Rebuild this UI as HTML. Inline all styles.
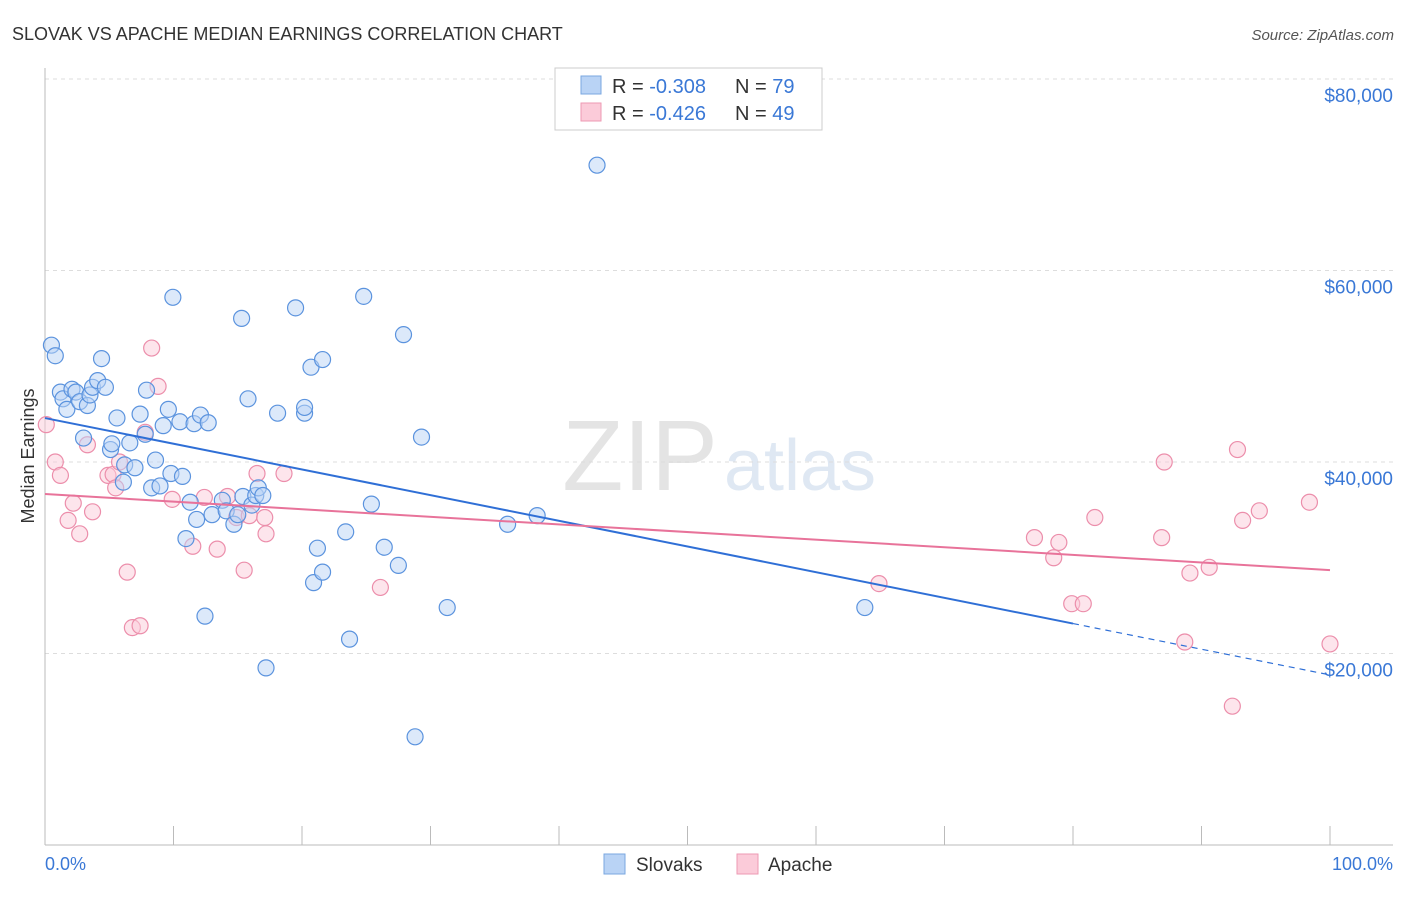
<!DOCTYPE html>
<html><head><meta charset="utf-8"><style>
body{margin:0;background:#fff;font-family:"Liberation Sans",sans-serif}
svg text{font-family:"Liberation Sans",sans-serif}
</style></head><body>
<svg id="c" width="1406" height="892">
<text x="12" y="40" font-size="18" fill="#333">SLOVAK VS APACHE MEDIAN EARNINGS CORRELATION CHART</text>
<text x="1394" y="40" font-size="15" fill="#555" text-anchor="end" font-style="italic">Source: ZipAtlas.com</text>
<text x="640" y="490" font-size="100" fill="#e4e4e4" font-family="Liberation Serif" text-anchor="middle">ZIP</text>
<text x="800" y="490" font-size="72" fill="#dfe8f3" text-anchor="middle">atlas</text>
<text x="34" y="456" font-size="18" fill="#333" text-anchor="middle" transform="rotate(-90 34 456)">Median Earnings</text>
<g id="grid"></g><g id="pts"></g><g id="lines"></g>
<g>
<rect x="555" y="68" width="267" height="62" fill="#fff" stroke="#ccc"/>
<rect x="581" y="76" width="20" height="18" fill="#b9d3f5" stroke="#7aa7e0"/>
<rect x="581" y="103" width="20" height="18" fill="#fbcbd9" stroke="#ee9ab3"/>
<text x="612" y="93" font-size="20" fill="#333">R = <tspan fill="#3a78d6">-0.308</tspan></text>
<text x="735" y="93" font-size="20" fill="#333">N = <tspan fill="#3a78d6">79</tspan></text>
<text x="612" y="120" font-size="20" fill="#333">R = <tspan fill="#3a78d6">-0.426</tspan></text>
<text x="735" y="120" font-size="20" fill="#333">N = <tspan fill="#3a78d6">49</tspan></text>
</g>
<g>
<rect x="604" y="854" width="21" height="20" fill="#b9d3f5" stroke="#7aa7e0"/>
<text x="636" y="871" font-size="19" fill="#333">Slovaks</text>
<rect x="737" y="854" width="21" height="20" fill="#fbcbd9" stroke="#ee9ab3"/>
<text x="768" y="871" font-size="19" fill="#333">Apache</text>
</g>
<text x="45" y="870" font-size="18" fill="#3a78d6">0.0%</text>
<text x="1393" y="870" font-size="18" fill="#3a78d6" text-anchor="end">100.0%</text>
</svg>
<script>
const yTicks=[80000,60000,40000,20000];
const yTickLabels=["$80,000","$60,000","$40,000","$20,000"];
const slovakX=[0.5,0.8,1.2,1.4,1.7,2.1,2.4,2.7,3.3,3.5,3.7,4.1,4.4,4.7,3.0,5.1,5.2,5.6,6.1,6.2,6.6,7.0,7.4,7.9,7.8,8.3,8.6,8.95,9.2,9.6,9.8,9.95,10.5,10.7,10.97,11.3,11.6,11.8,12.1,12.45,12.7,13.0,13.8,14.1,14.7,15.0,15.3,15.4,15.8,16.1,16.4,16.6,16.95,17.2,18.1,19.5,20.2,20.2,20.7,20.9,21.2,21.6,21.6,23.4,23.7,24.8,25.4,26.4,27.5,27.9,28.8,29.3,31.3,36.0,38.3,42.96,63.8];
const slovakY=[52.2,51.1,47.3,46.6,45.5,47.6,47.3,46.3,45.9,47.0,47.8,48.5,50.8,47.8,42.5,41.3,41.9,44.6,37.9,39.7,42.0,39.4,45.0,47.5,42.9,37.3,40.2,37.5,43.8,45.5,38.8,57.2,44.2,38.5,32.0,35.8,44.0,34.0,44.9,23.9,44.1,34.5,36.0,34.9,33.5,34.5,55.0,36.4,46.6,35.5,36.5,37.3,36.5,18.5,45.1,56.1,45.1,45.7,49.9,27.4,31.0,50.7,28.5,32.7,21.5,57.3,35.6,31.1,29.2,53.3,11.3,42.6,24.8,33.5,34.4,71.0,24.8];
const apacheX=[0.1,0.8,1.2,1.8,2.2,2.7,3.3,3.7,4.9,5.3,5.5,5.8,6.4,6.8,7.4,7.8,8.3,8.8,9.9,11.5,12.4,13.4,14.2,14.9,15.5,15.9,16.5,17.1,17.2,18.6,26.1,64.9,77.0,78.5,78.9,79.9,80.8,81.7,87.1,86.9,89.1,90.6,88.7,92.4,93.2,92.8,94.5,98.4,100.0];
const apacheY=[43.9,40.0,38.6,33.9,35.7,32.5,41.8,34.8,38.6,38.7,37.3,40.0,28.5,22.7,22.9,43.1,51.9,47.9,36.1,31.2,36.3,30.9,36.4,34.2,28.7,34.4,38.8,34.2,32.5,38.8,26.9,27.3,32.1,30.0,31.6,25.2,25.2,34.2,40.0,32.1,28.4,29.0,21.2,14.5,33.9,41.3,34.9,35.8,21.0];
const X0=45,X1=1330,YB=845,PXK=9.575;
const sx=v=>X0+(X1-X0)*v/100, sy=v=>YB-v*PXK/1000;
const NS="http://www.w3.org/2000/svg";
function mk(t,a,p){const e=document.createElementNS(NS,t);for(const k in a)e.setAttribute(k,a[k]);p.appendChild(e);return e;}
const grid=document.getElementById('grid');
yTicks.forEach((v,i)=>{
 const l=mk('line',{x1:45,x2:1393,y1:sy(v),y2:sy(v),stroke:'#ddd','stroke-dasharray':'4,4'},grid);
 
 
 const t=mk('text',{x:1393,y:sy(v)+23,'font-size':19,fill:'#3a78d6','text-anchor':'end'},grid);
 t.textContent=yTickLabels[i];
 
 
});
const ax=mk('line',{x1:45,x2:45,y1:68,y2:845,stroke:'#bbb'},grid);


const bx=mk('line',{x1:45,x2:1393,y1:845,y2:845,stroke:'#bbb'},grid);


for(let i=0;i<=10;i++){const t=mk('line',{x1:sx(i*10),x2:sx(i*10),y1:826,y2:845,stroke:'#bbb'},grid);
 
 }
const pts=document.getElementById('pts');
function draw(xs,ys,f,s,n){xs.forEach((x,i)=>{const c=mk('circle',{cx:sx(x),cy:sy(ys[i]*1000),r:8,fill:f,'fill-opacity':0.5,stroke:s,'stroke-width':1.2},pts);
 
 });}
draw(apacheX,apacheY,'#fbcbd9','#ec8eab','apache-point');
draw(slovakX,slovakY,'#b9d3f5','#5b93de','slovak-point');
function fit(xs,ys){const n=xs.length;let mx=0,my=0;xs.forEach((x,i)=>{mx+=x;my+=ys[i];});mx/=n;my/=n;let a=0,b=0;xs.forEach((x,i)=>{a+=(x-mx)*(ys[i]-my);b+=(x-mx)**2;});const m=a/b;return x=>(my+m*(x-mx))*1000;}
const L=document.getElementById('lines');
const fb=fit(slovakX,slovakY),fa=fit(apacheX,apacheY);
const bl=mk('line',{x1:sx(0),y1:sy(fb(0)),x2:sx(80),y2:sy(fb(80)),stroke:'#2f6fd6','stroke-width':2},L);


const bd=mk('line',{x1:sx(80),y1:sy(fb(80)),x2:sx(100),y2:sy(fb(100)),stroke:'#2f6fd6','stroke-width':1.2,'stroke-dasharray':'6,5'},L);


const al=mk('line',{x1:sx(0),y1:sy(fa(0)),x2:sx(100),y2:sy(fa(100)),stroke:'#e8739a','stroke-width':2},L);


</script>
</body></html>
